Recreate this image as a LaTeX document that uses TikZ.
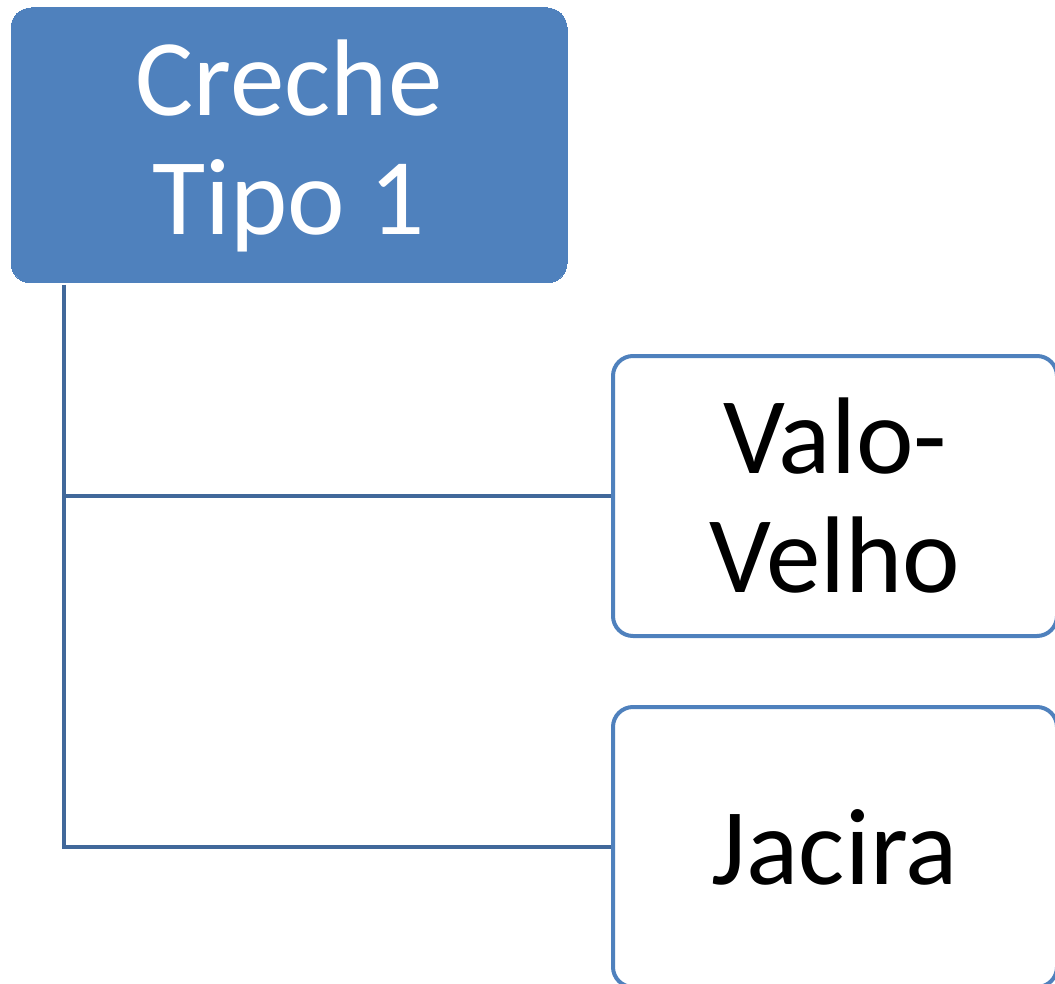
\documentclass[tikz,border=0pt]{standalone}
\usepackage{fontspec}
\setmainfont{Carlito}
\begin{document}
\begin{tikzpicture}[x=1pt,y=-1pt,
  topbox/.style={draw=boxblue,fill=boxblue,line width=0pt,rounded corners=20pt,minimum width=556pt,minimum height=275pt,text=white,align=center,inner sep=0pt},
  leafbox/.style={draw=boxblue,fill=white,line width=4pt,rounded corners=20pt,minimum width=444pt,minimum height=280pt,text=black,align=center,inner sep=0pt},
  conn/.style={draw=connblue,line width=3.5pt},
  bigtext/.style={font=\fontsize{109}{119}\selectfont}]
\definecolor{boxblue}{HTML}{4F81BD}
\definecolor{connblue}{HTML}{41689A}
\useasboundingbox (0,0) rectangle (1055,984);
\clip (0,0) rectangle (1055,984);
\node[topbox,bigtext] (top) at (289,145.5) {Creche\\Tipo 1};
\node[leafbox,bigtext] (v) at (835,496) {Valo-\\Velho};
\node[leafbox,bigtext] (j) at (835,847) {Jacira};
\coordinate (trunk) at (64,285);
\draw[conn] (trunk) |- (v.west);
\draw[conn] (trunk) |- (j.west);
\end{tikzpicture}
\end{document}
